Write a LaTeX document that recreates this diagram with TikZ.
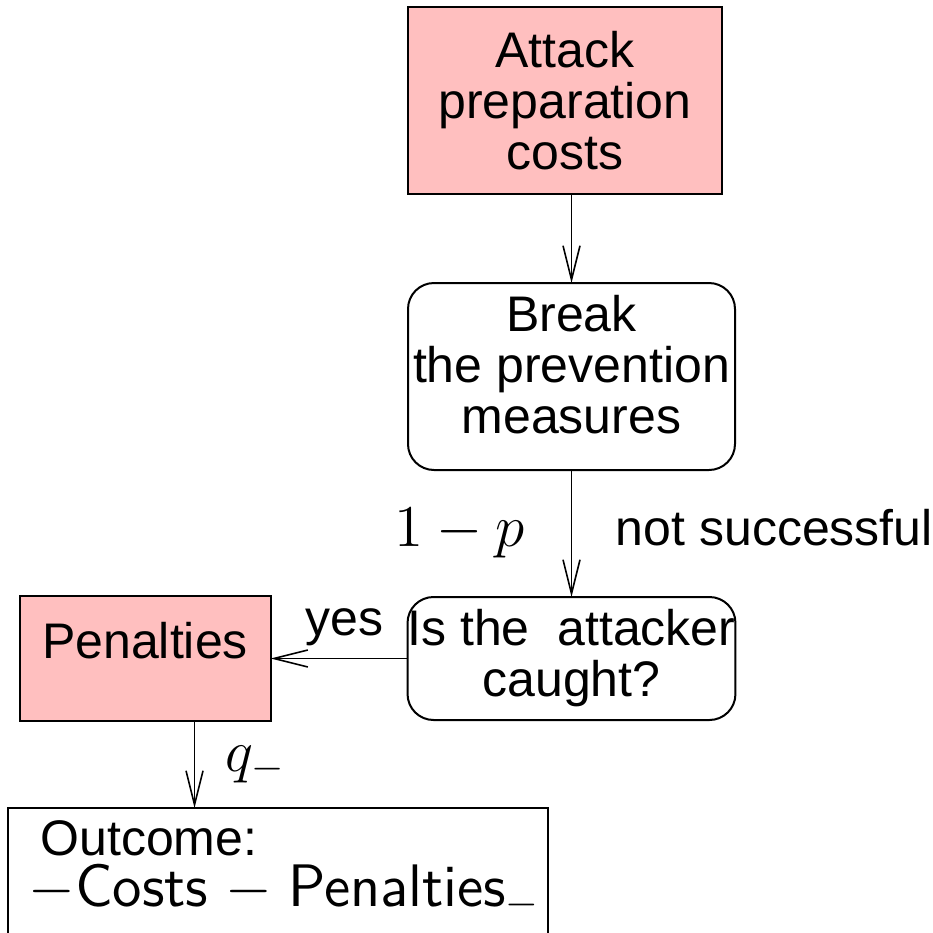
\RequirePackage{fix-cm}
\documentclass[tikz,border=0pt]{standalone}
\usepackage{fontspec}
\setmainfont{Liberation Sans}
\usetikzlibrary{positioning,arrows.meta}
\definecolor{boxpink}{RGB}{255,191,191}

\begin{document}
\begin{tikzpicture}[
  box/.style={draw, line width=0.5pt, align=center, inner sep=0pt, outer sep=0pt, fill=#1},
  box/.default=white,
  rbox/.style={box, rounded corners=6.5pt},
  arr/.style={-{Straight Barb[length=8.5pt,width=4.25pt]}, line width=0.4pt},
  lbl/.style={inner sep=0pt, font=\fontsize{14.8}{16}\selectfont},
  font=\fontsize{12.5}{12.75}\selectfont
]
  \useasboundingbox (0,0) rectangle (233.25pt,-233.25pt);

  \node[box=boxpink, minimum width=78.5pt, minimum height=46.75pt] (attack) at (141.25pt,-25.125pt) {Attack\\preparation\\costs};
  \node[rbox, minimum width=81.75pt, minimum height=46.75pt, text depth=6pt, below=22.25pt of attack, xshift=1.625pt] (brk) {Break\\the prevention\\measures};
  \node[rbox, minimum width=81.75pt, minimum height=30.75pt, below=31.75pt of brk] (caught) {Is the~ attacker\\caught?};
  \node[box=boxpink, minimum width=62.75pt, minimum height=31.25pt, text depth=9pt, left=34.25pt of caught] (pen) {Penalties};
  \node[box, below=21.75pt of pen.south west, anchor=north west, xshift=-3pt,
        text width=124.5pt, inner xsep=5.25pt, inner ysep=3.2pt, text depth=20pt, align=left] (outcome)
        {\hspace{3pt}Outcome:\\\sffamily\fontsize{15}{12.5}\selectfont\mbox{$-$Costs $-$ Penalties$_-$}};

  \draw[arr] (attack.south -| brk.north) -- (brk.north);
  \draw[arr] (brk) -- node[lbl, left=11.5pt]{$1-p$} node[right=10.9pt, inner sep=0pt, yshift=1.5pt]{not successful} (caught);
  \draw[arr] (caught) -- node[above=3pt, inner sep=0pt, xshift=1.4pt]{yes} (pen);
  \coordinate (pq) at ([xshift=12.375pt]pen.south);
  \draw[arr] (pq) -- node[lbl, right=7.5pt]{$q_-$} (pq |- outcome.north);
\end{tikzpicture}
\end{document}
